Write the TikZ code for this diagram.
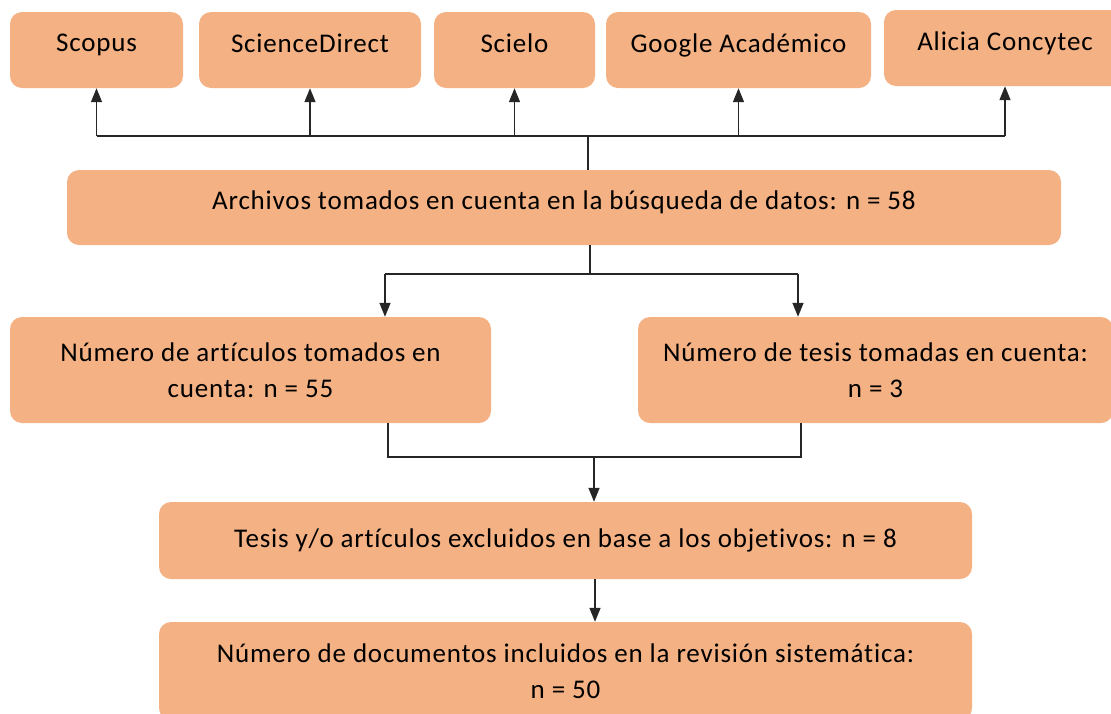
\documentclass[tikz,border=0pt]{standalone}
\usepackage{fontspec}
\setmainfont{Carlito}[Ligatures=NoCommon, LetterSpace=3]
\usepackage{tikz}
\usetikzlibrary{arrows.meta}
\definecolor{boxfill}{RGB}{244,177,131}
\tikzset{
  caja/.style={fill=boxfill, rounded corners=12pt, align=center, inner sep=0pt,
    font=\fontsize{27}{36}\selectfont},
  arriba/.style={text depth=14pt},
  linea/.style={line width=1.4pt, black!85},
  flecha/.style={linea, -{Triangle[width=11pt,length=14pt]}}
}
\begin{document}
\begin{tikzpicture}[x=1pt,y=-1pt]
\useasboundingbox (0,0) rectangle (1111,713);
% fuentes
\node[caja, arriba, minimum width=173pt, minimum height=76pt] (scopus) at (96.5,50) {Scopus};
\node[caja, arriba, minimum width=222pt, minimum height=76pt] (sciencedirect) at (310,50) {ScienceDirect};
\node[caja, arriba, minimum width=161pt, minimum height=76pt] (scielo) at (514.5,50) {Scielo};
\node[caja, arriba, minimum width=265pt, minimum height=76pt] (google) at (738.5,50) {Google Académico};
\node[caja, arriba, minimum width=242pt, minimum height=76pt] (alicia) at (1005,48) {Alicia Concytec};
\node[caja, arriba, minimum width=994pt, minimum height=75pt] (archivos) at (564,207.5) {Archivos tomados en cuenta en la búsqueda de datos: n = 58};
\node[caja, minimum width=481pt, minimum height=106pt] (articulos) at (250.5,370) {Número de artículos tomados en\\cuenta: n = 55};
\node[caja, minimum width=475pt, minimum height=106pt] (tesis) at (875.5,370) {Número de tesis tomadas en cuenta:\\n = 3};
\node[caja, minimum width=813pt, minimum height=77pt] (excluidos) at (565.5,540.5) {Tesis y/o artículos excluidos en base a los objetivos: n = 8};
\node[caja, minimum width=813pt, minimum height=98pt] (incluidos) at (565.5,671) {Número de documentos incluidos en la revisión sistemática:\\n = 50};
% conectores
\coordinate (bus) at (588,136);
\draw[linea] (archivos.north -| bus) -- (bus);
\draw[linea] (scopus.south |- bus) -- (alicia.south |- bus);
\foreach \n in {scopus,sciencedirect,scielo,google,alicia}
  \draw[flecha] (\n.south |- bus) -- (\n.south);
\coordinate (split) at (590,274);
\coordinate (izq) at (385,274);
\coordinate (der) at (798,274);
\draw[linea] (archivos.south -| split) -- (split);
\draw[linea] (izq) -- (der);
\draw[flecha] (izq) -- (izq |- articulos.north);
\draw[flecha] (der) -- (der |- tesis.north);
\coordinate (unir) at (594,457);
\draw[linea] (388,0 |- articulos.south) -- (388,457) -- (801,457) -- (801,0 |- tesis.south);
\draw[flecha] (unir) -- (unir |- excluidos.north);
\coordinate (baja) at (595,579);
\draw[flecha] (excluidos.south -| baja) -- (baja |- incluidos.north);
\end{tikzpicture}
\end{document}
